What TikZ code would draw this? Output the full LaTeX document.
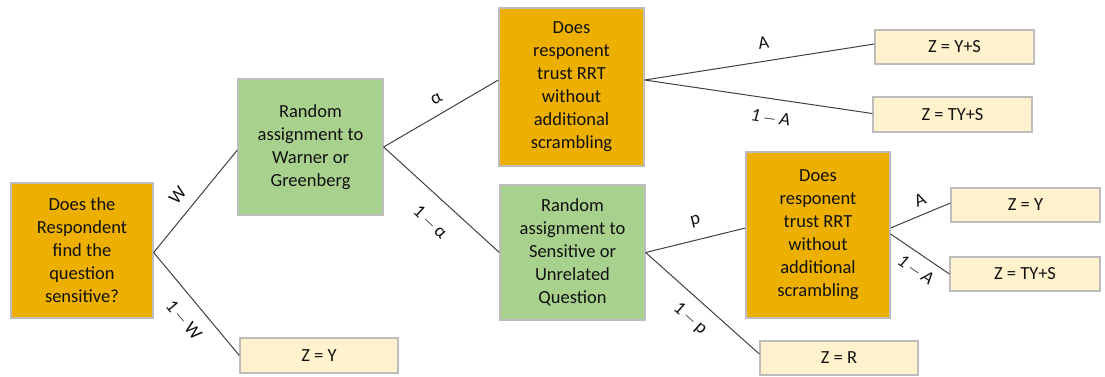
\documentclass[tikz,border=0pt]{standalone}
\usepackage{fontspec}
\setmainfont{Carlito}
\definecolor{gold}{HTML}{EDB000}
\definecolor{lgreen}{HTML}{A9D18E}
\definecolor{cream}{HTML}{FFF2CC}
\definecolor{boxgray}{HTML}{BDBDBD}
\definecolor{linegray}{HTML}{404040}
\definecolor{txt}{HTML}{111111}
\newcommand{\mysp}{\hspace{3pt}}
\newcommand{\mymin}{\mysp$-$\mysp}
\begin{document}
\begin{tikzpicture}[x=1pt,y=-1pt,
  box/.style={draw=boxgray, line width=1.3pt, inner sep=0pt, align=center,
    font=\fontsize{18.5}{23}\selectfont, text=txt},
  obox/.style={box, fill=gold},
  gbox/.style={box, fill=lgreen},
  leaf/.style={box, fill=cream},
  conn/.style={draw=linegray, line width=1pt},
  lbl/.style={font=\fontsize{18.5}{23}\selectfont, text=txt, inner sep=0pt}]
\useasboundingbox (0,0) rectangle (1105,376);

% boxes
\node[obox, minimum width=142pt, minimum height=135pt] (b1) at (82,250.5)
  {Does the\\Respondent\\find the\\question\\sensitive?};
\node[gbox, minimum width=145pt, minimum height=136pt] (b2) at (310.5,147)
  {Random\\assignment to\\Warner or\\Greenberg};
\node[obox, minimum width=145pt, minimum height=158pt] (b3) at (571.5,87)
  {Does\\responent\\trust RRT\\without\\additional\\scrambling};
\node[gbox, minimum width=145pt, minimum height=135pt] (b4) at (572.5,252.5)
  {Random\\assignment to\\Sensitive or\\Unrelated\\Question};
\node[obox, minimum width=144pt, minimum height=166pt] (b5) at (818,235)
  {Does\\responent\\trust RRT\\without\\additional\\scrambling};

% leaves
\node[leaf, minimum width=159pt, minimum height=34pt] (l1) at (954.5,47) {Z = Y+S};
\node[leaf, minimum width=159pt, minimum height=35pt] (l2) at (952.5,114.5) {Z = TY+S};
\node[leaf, minimum width=149pt, minimum height=34pt] (l3) at (1025.5,205) {Z = Y};
\node[leaf, minimum width=150pt, minimum height=34pt] (l4) at (1025,274) {Z = TY+S};
\node[leaf, minimum width=158pt, minimum height=34pt] (l5) at (839,358) {Z = R};
\node[leaf, minimum width=158pt, minimum height=35pt] (l6) at (319,355.5) {Z = Y};

% connectors
\draw[conn] ([yshift=-2pt]b1.east) -- ([yshift=-3pt]b2.west);
\draw[conn] ([yshift=-2pt]b1.east) -- (l6.west);
\draw[conn] (b2.east) -- ([yshift=7pt]b3.west);
\draw[conn] (b2.east) -- (b4.west);
\draw[conn] ([yshift=7pt]b3.east) -- ([yshift=3pt]l1.west);
\draw[conn] ([yshift=7pt]b3.east) -- ([yshift=1pt]l2.west);
\draw[conn] (b4.east) -- ([yshift=7pt]b5.west);
\draw[conn] (b4.east) -- ([yshift=4pt]l5.west);
\draw[conn] ([yshift=7pt]b5.east) -- ([yshift=2pt]l3.west);
\draw[conn] ([yshift=1pt]b5.east) -- (l4.west);

% labels
\node[lbl, rotate=50] (tw) at (177.5,195.5) {W};
\node[lbl, rotate=-50] (tnw) at (183.5,320) {1\mymin W};
\node[lbl, rotate=30] (ta) at (436.5,99) {α};
\node[lbl, rotate=-43] (tna) at (430,222.5) {1\mymin α};
\node[lbl, rotate=9] (tA1) at (763.5,43) {A};
\node[lbl, rotate=-8] (tnA1) at (770.5,118.5) {\itshape 1\mymin A};
\node[lbl, rotate=14] (tp) at (695.5,221.5) {p};
\node[lbl, rotate=-42] (tnp) at (690,319) {1\mymin p};
\node[lbl, rotate=23] (tA2) at (920,200) {A};
\node[lbl, rotate=-34] (tnA2) at (915.5,270.5) {\itshape 1\mymin A};
\end{tikzpicture}
\end{document}
